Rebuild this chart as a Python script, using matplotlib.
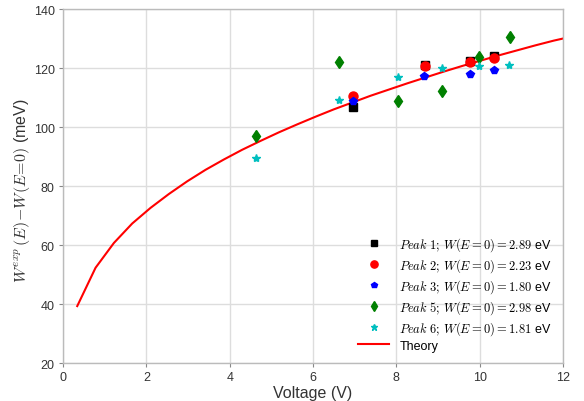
import matplotlib
matplotlib.use("Agg")
import matplotlib.pyplot as plt

plt.rcParams['font.family'] = ['Liberation Sans', 'DejaVu Sans']
plt.rcParams['mathtext.fontset'] = 'cm'

# Data
p1_x = [6.97, 8.69, 9.78, 10.34]
p1_y = [106.8, 121.0, 122.4, 124.1]
p2_x = [6.97, 8.68, 9.78, 10.34]
p2_y = [110.5, 120.8, 121.9, 123.4]
p3_x = [6.97, 8.67, 9.78, 10.34]
p3_y = [108.9, 117.4, 118.0, 119.4]
p5_x = [4.64, 6.62, 8.03, 9.10, 9.99, 10.73]
p5_y = [96.8, 121.9, 108.9, 112.1, 123.6, 130.5]
p6_x = [4.64, 6.62, 8.03, 9.10, 9.99, 10.70]
p6_y = [89.5, 109.2, 117.1, 120.0, 120.8, 121.0]
theory_x = [0.34, 0.78, 1.22, 1.66, 2.10, 2.54, 2.98, 3.42, 3.86, 4.30, 4.74,
            5.18, 5.62, 6.06, 6.50, 6.94, 7.38, 7.82, 8.26, 8.70, 9.14, 9.58,
            10.02, 10.46, 10.90, 11.34, 11.78, 12.0]
theory_y = [39.3, 52.3, 60.7, 67.3, 72.6, 77.3, 81.6, 85.5, 89.0, 92.3, 95.3,
            98.2, 100.9, 103.5, 106.0, 108.3, 110.6, 112.7, 114.8, 116.8, 118.8,
            120.7, 122.5, 124.3, 126.0, 127.7, 129.3, 130.0]
labels = [r'$Peak\ 1;\,W(E=0)=2.89$ eV',
          r'$Peak\ 2;\,W(E=0)=2.23$ eV',
          r'$Peak\ 3;\,W(E=0)=1.80$ eV',
          r'$Peak\ 5;\,W(E=0)=2.98$ eV',
          r'$Peak\ 6;\,W(E=0)=1.81$ eV',
          'Theory']

fig = plt.figure(figsize=(5.84, 4.02), dpi=100)
ax = fig.add_axes([0.108, 0.0945, 0.856, 0.8805])

ax.plot(p1_x, p1_y, 's', color='k', ms=6, mec='k', label=labels[0], zorder=3)
ax.plot(p2_x, p2_y, 'o', color='r', ms=6.5, mec='r', label=labels[1], zorder=3)
ax.plot(p3_x, p3_y, 'p', color='b', ms=5.5, mec='b', label=labels[2], zorder=3)
ax.plot(p5_x, p5_y, 'd', color='g', ms=6.2, mec='g', label=labels[3], zorder=3)
ax.plot(p6_x, p6_y, '*', color='c', ms=6, mec='c', label=labels[4], zorder=3)
ax.plot(theory_x, theory_y, '-', color='r', lw=1.5, label=labels[5], zorder=2)

ax.set_xlim(0, 12)
ax.set_ylim(20, 140)
ax.set_xticks(range(0, 13, 2))
ax.set_yticks(range(20, 141, 20))
ax.grid(True, color='#dddddd', lw=1)
ax.set_axisbelow(True)
for s in ax.spines.values():
    s.set_color('#bbbbbb')
    s.set_linewidth(1)
ax.tick_params(axis='both', length=3, color='#888888', labelsize=9, labelcolor='#333333', pad=3)

ax.set_xlabel('Voltage (V)', fontsize=11.5, color='#333333', labelpad=1)
ax.set_ylabel(r'$W^{exp}\,(E)\!-\!W(E\!=\!0)$ (meV)', fontsize=11.5, color='#333333')
ax.yaxis.set_label_coords(-0.062, 0.49)

leg = ax.legend(loc='lower right', numpoints=1, frameon=False, fontsize=9,
                handlelength=2.5, labelspacing=0.26, markerscale=0.8,
                bbox_to_anchor=(1.0, 0.0))

fig.savefig('out.png', dpi=100)
